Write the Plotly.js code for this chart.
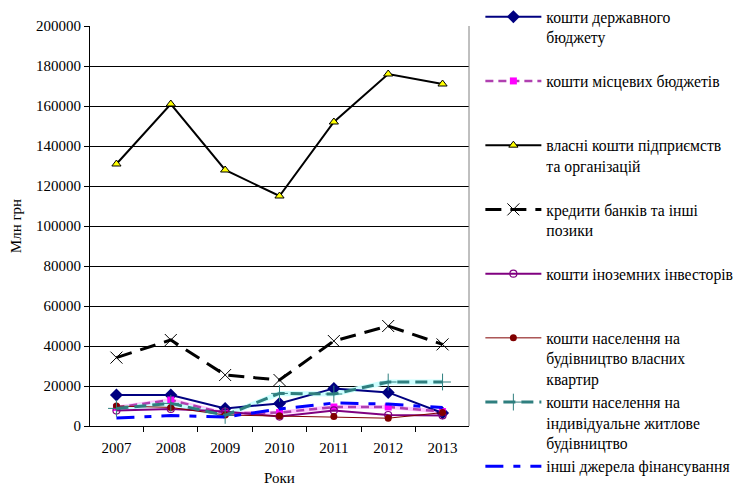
<!DOCTYPE html>
<html>
<head>
<meta charset="utf-8">
<script src="https://cdn.plot.ly/plotly-3.0.1.min.js"></script>
<style>html,body{margin:0;padding:0;background:#fff}</style>
</head>
<body>
<div id="chart" style="width:733px;height:488px"></div>
<script>
const years = ['2007','2008','2009','2010','2011','2012','2013'];
const stateBudget   = [15500, 15500, 8800, 11300, 18800, 16800, 6500];
const localBudgets  = [9300, 13000, 6300, 6700, 9500, 9500, 7200];
const ownFunds      = [131000, 161000, 128000, 115000, 152000, 176000, 171000];
const bankCredits   = [34200, 43000, 25500, 23000, 42500, 50000, 40800];
const foreignInv    = [7700, 8500, 7200, 4700, 7800, 5500, 5300];
const popApartments = [10000, 9300, 5500, 5000, 4700, 3900, 6700];
const popIndividual = [8800, 11300, 5300, 16300, 16000, 22000, 22000];
const otherSources  = [4000, 5200, 4500, 8500, 11500, 11000, 9200];

const names = [
  'кошти державного<br>бюджету<br> ',
  'кошти місцевих бюджетів<br> <br> ',
  'власні кошти підприємств<br>та організацій<br> ',
  'кредити банків та інші<br>позики<br> ',
  'кошти іноземних інвесторів<br> <br> ',
  'кошти населення на<br>будівництво власних<br>квартир',
  'кошти населення на<br>індивідуальне житлове<br>будівництво',
  'інші джерела фінансування'
];

const FONT = 'Liberation Serif, Times New Roman, serif';

const traces = [
  {x: years, y: localBudgets, mode: 'lines', line: {color: '#FFC8FF', width: 4}, showlegend: false, hoverinfo: 'skip'},
  {x: years, y: popIndividual, mode: 'lines', line: {color: '#CCFFFF', width: 5}, showlegend: false, hoverinfo: 'skip'},
  {x: years, y: stateBudget, name: names[0], mode: 'lines+markers', legendgroup: 'a',
   line: {color: '#000080', width: 2}, marker: {symbol: 'diamond', size: 10, color: '#000080'}},
  {x: years, y: localBudgets, name: names[1], mode: 'lines+markers', legendgroup: 'b',
   line: {color: '#B040B0', width: 2.5, dash: '8px,5px'}, marker: {symbol: 'square', size: 7, color: '#FF00FF'}},
  {x: years, y: ownFunds, name: names[2], mode: 'lines+markers', legendgroup: 'c',
   line: {color: '#000000', width: 2}, marker: {symbol: 'triangle-up', size: 8, color: '#FFFF00', line: {color: '#000', width: 1}}},
  {x: years, y: bankCredits, name: names[3], mode: 'lines+markers', legendgroup: 'd',
   line: {color: '#000000', width: 3, dash: '16px,9px'}, marker: {symbol: 'x-thin-open', size: 12, color: '#000', line: {color: '#000', width: 1}}},
  {x: years, y: foreignInv, name: names[4], mode: 'lines+markers', legendgroup: 'e',
   line: {color: '#800080', width: 2}, marker: {symbol: 'circle-open', size: 7, color: '#800080', line: {width: 1.2}}},
  {x: years, y: popApartments, name: names[5], mode: 'lines+markers', legendgroup: 'f',
   line: {color: '#800000', width: 1}, marker: {symbol: 'circle', size: 7, color: '#800000'}},
  {x: years, y: popIndividual, name: names[6], mode: 'lines+markers', legendgroup: 'g',
   line: {color: '#2F7F7F', width: 3, dash: '12px,6px'}, marker: {symbol: 'cross-thin-open', size: 12, color: '#2F7F7F', line: {color: '#2F7F7F', width: 1}}},
  {x: years, y: otherSources, name: names[7], mode: 'lines', legendgroup: 'h',
   line: {color: '#0000FF', width: 3, dash: '18px,10px,7px,10px'}}
];

const layout = {
  width: 733, height: 488,
  margin: {l: 90, r: 264, t: 26, b: 62, autoexpand: false},
  paper_bgcolor: '#fff', plot_bgcolor: '#fff',
  font: {family: FONT, size: 15, color: '#000'},
  showlegend: true,
  legend: {
    x: 1.03, y: 1.065, xanchor: 'left', yanchor: 'top',
    traceorder: 'grouped', tracegroupgap: 0, valign: 'top',
    itemwidth: 56, maxheight: 2000,
    font: {family: FONT, size: 15.7, color: '#000'},
    bgcolor: 'rgba(0,0,0,0)'
  },
  xaxis: {
    type: 'category', tickson: 'boundaries', ticks: 'outside', ticklen: 5, tickcolor: '#000',
    ticklabelstandoff: 8,
    showline: true, linecolor: '#000', linewidth: 1, showgrid: false,
    title: {text: 'Роки', standoff: 17, font: {family: FONT, size: 15}},
    tickfont: {family: FONT, size: 15}
  },
  yaxis: {
    range: [0, 200000], dtick: 20000, tick0: 0, tickformat: 'd',
    ticks: 'outside', ticklen: 5, tickcolor: '#000',
    showline: true, linecolor: '#000', linewidth: 1,
    showgrid: true, gridcolor: '#000', gridwidth: 1, zeroline: false,
    title: {text: 'Млн грн', standoff: 10, font: {family: FONT, size: 15}},
    tickfont: {family: FONT, size: 15}
  },
  shapes: [
    {type: 'line', xref: 'paper', yref: 'paper', x0: 1, x1: 1, y0: 0, y1: 1, line: {color: '#808080', width: 1}}
  ]
};

Plotly.newPlot('chart', traces, layout, {displayModeBar: false, staticPlot: true});
</script>
</body>
</html>
